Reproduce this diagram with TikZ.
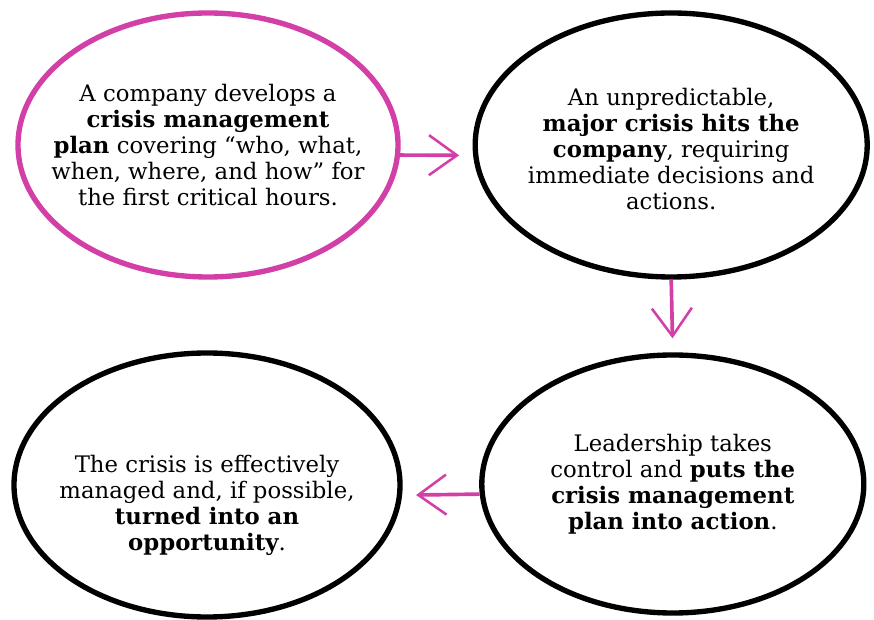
\documentclass[tikz,border=0pt]{standalone}
\usepackage{fontspec}
\setmainfont{DejaVu Serif}
\usetikzlibrary{shapes.geometric,arrows.meta,positioning}
\definecolor{color1}{HTML}{D23FA6}

\begin{document}
\begin{tikzpicture}[
  x=1cm,
  y=1cm,
  bubble/.style={ellipse, draw=black, line width=3.8pt, align=center, inner sep=-2cm, font=\fontsize{16.2}{18.6}\selectfont},
  plan/.style={bubble, draw=color1},
  flow/.style={-{Straight Barb[length=7mm,width=10mm,line width=1.8pt]}, draw=color1, line width=2.6pt, shorten >=3.5mm}
]
\useasboundingbox (0,0) rectangle (21.85,15.5);
\node[plan, minimum width=9.5cm, minimum height=6.6cm] (e1) at (5.2,11.875) {A company develops a\\\textbf{crisis management}\\\textbf{plan} covering “who, what,\\when, where, and how” for\\the first critical hours.};
\node[bubble, minimum width=9.8cm, minimum height=6.6cm, text height=3.25cm] (e2) at (16.78,11.875) {An unpredictable,\\\textbf{major crisis hits the}\\\textbf{company}, requiring\\immediate decisions and\\actions.};
\node[bubble, minimum width=9.55cm, minimum height=6.45cm] (e3) at (16.82,3.4) {Leadership takes\\control and \textbf{puts the}\\\textbf{crisis management}\\\textbf{plan into action}.};
\node[bubble, minimum width=9.65cm, minimum height=6.6cm, text height=3.4cm] (e4) at (5.175,3.375) {The crisis is effectively\\managed and, if possible,\\\textbf{turned into an}\\\textbf{opportunity}.};
\draw[flow] (e1.-3) -- (e2.183);
\draw[flow] (e2.south) -- (e3.north);
\draw[flow] (e3.183) -- (e4.-3);
\end{tikzpicture}
\end{document}
